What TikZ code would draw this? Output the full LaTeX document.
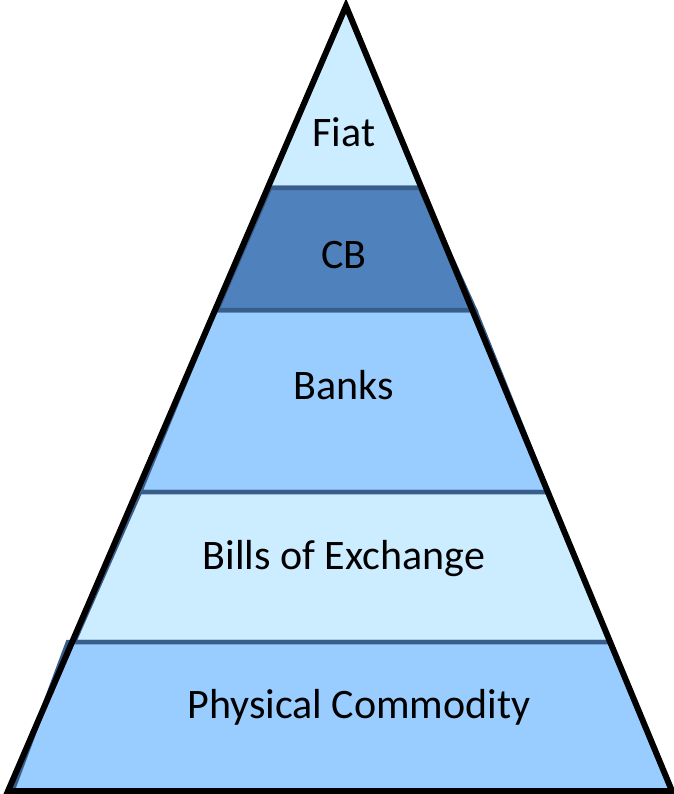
\documentclass[tikz,border=0pt]{standalone}
\usepackage{fontspec}
\setmainfont{Carlito}
\definecolor{layerlight}{RGB}{204,236,255}
\definecolor{layermid}{RGB}{153,204,255}
\definecolor{layerdark}{RGB}{79,129,189}
\definecolor{layeredge}{RGB}{56,93,138}
\tikzset{
  layer/.style={draw=layeredge, line width=4.5pt, line join=miter},
  outline/.style={draw=black, line width=6pt, line join=miter},
  label/.style={anchor=base, inner sep=0pt, font=\fontsize{42}{50}\selectfont}
}
\begin{document}
\begin{tikzpicture}[x=1pt, y=-1pt]
\useasboundingbox (0,0) rectangle (673,794);
% pyramid layers, top to bottom
\path[layer, fill=layerlight] (346,6) -- (421,188) -- (268,188) -- cycle;
\path[layer, fill=layermid] (215,310) -- (475,310) -- (548,492) -- (140,492) -- cycle;
\path[layer, fill=layerlight] (140,492) -- (548,492) -- (610,642) -- (74,642) -- cycle;
\path[layer, fill=layermid] (68,642) -- (610,642) -- (672,792) -- (12,792) -- cycle;
\path[layer, fill=layerdark] (270,188) -- (420,188) -- (475,310) -- (217,310) -- cycle;
% outer outline
\draw[outline] (346,6) -- (672,791) -- (8,791) -- cycle;
% layer labels
\node[label] (fiat) at (344,147) {Fiat};
\node[label] (cb) at (344,268) {CB};
\node[label] (banks) at (344,399) {Banks};
\node[label] (bills) at (344,569) {Bills of Exchange};
\node[label] (commodity) at (359,718) {Physical Commodity};
\end{tikzpicture}
\end{document}
